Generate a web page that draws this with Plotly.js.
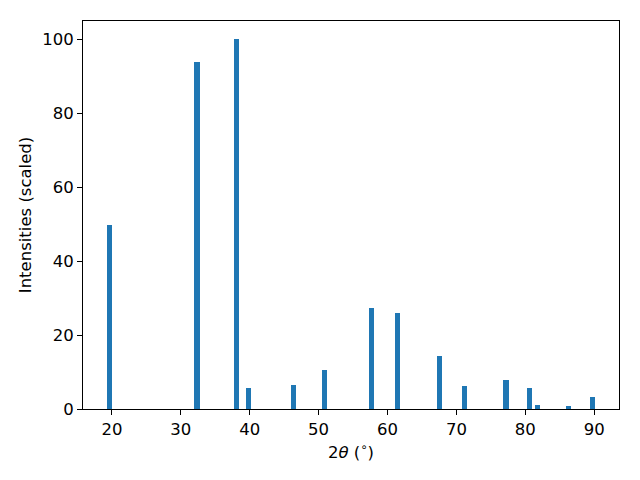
<!DOCTYPE html>
<html>
<head>
<meta charset="utf-8">
<script src="https://cdn.plot.ly/plotly-3.0.1.min.js"></script>
<style>html,body{margin:0;padding:0;background:#fff;}</style>
</head>
<body>
<div id="chart" style="width:640px;height:480px;"></div>
<script>
var twoTheta = [19.7, 32.35, 38.1, 39.85, 46.4, 50.9, 57.7, 61.5, 67.6, 71.2, 77.2, 80.6, 81.8, 86.3, 89.7];
var intensity = [49.8, 94.0, 100, 5.8, 6.6, 10.6, 27.4, 26.1, 14.4, 6.3, 7.9, 5.8, 1.2, 0.9, 3.3];
var xTicks = [20, 30, 40, 50, 60, 70, 80, 90];
var yTicks = [0, 20, 40, 60, 80, 100];

var trace = {
  type: 'bar',
  x: twoTheta,
  y: intensity,
  width: 0.74,
  marker: {color: '#1f77b4', line: {width: 0}},
  hoverinfo: 'x+y'
};

var font = {family: 'DejaVu Sans, sans-serif', size: 16.5, color: '#000'};
var layout = {
  width: 640, height: 480,
  margin: {l: 83, r: 21, t: 21, b: 71, pad: 0},
  paper_bgcolor: '#fff', plot_bgcolor: '#fff',
  font: font,
  showlegend: false,
  bargap: 0,
  xaxis: {
    range: [15.8, 93.6],
    tickvals: xTicks,
    ticktext: xTicks.map(String),
    ticks: 'outside', ticklen: 5, tickwidth: 1, tickcolor: '#000',
    showgrid: false, zeroline: false,
    showline: true, linecolor: '#000', linewidth: 1, mirror: true,
    tickfont: font,
    title: {text: '2<i>θ</i> (<sup>∘</sup>)', font: font, standoff: 8}
  },
  yaxis: {
    range: [0, 105],
    tickvals: yTicks,
    ticktext: yTicks.map(String),
    ticks: 'outside', ticklen: 5, tickwidth: 1, tickcolor: '#000',
    showgrid: false, zeroline: false,
    showline: true, linecolor: '#000', linewidth: 1, mirror: true,
    tickfont: font,
    title: {text: 'Intensities (scaled)', font: font, standoff: 6}
  }
};

Plotly.newPlot('chart', [trace], layout, {displayModeBar: false, staticPlot: true});
</script>
</body>
</html>
